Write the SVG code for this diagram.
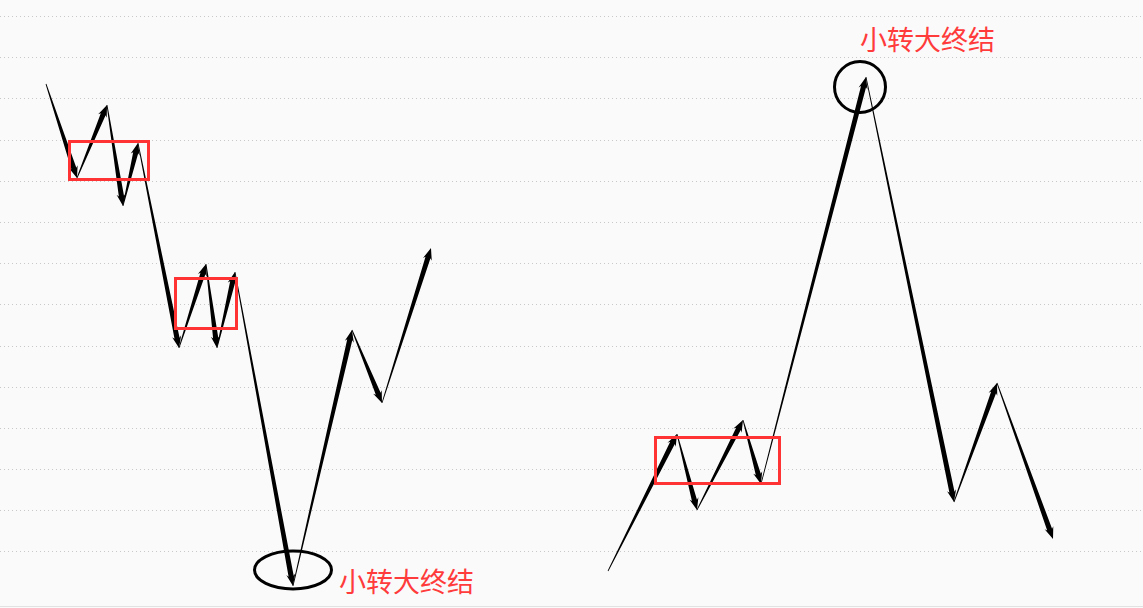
<svg xmlns="http://www.w3.org/2000/svg" width="1143" height="608" viewBox="0 0 1143 608">
<style>
.grid{stroke:#c8c8c8;stroke-width:1;stroke-dasharray:1 3}
.arr{fill:#000}
.box{fill:none;stroke:#ff3333;stroke-width:3}
.ring{fill:none;stroke:#000;stroke-width:3}
.lbl{font-family:"Noto Sans CJK SC","Noto Sans CJK JP",sans-serif;font-size:27px;fill:#ff3b3b}
</style>
<rect x="0" y="0" width="1143" height="608" fill="#fafafa"/>
<g id="grid">
<line class="grid" x1="0" y1="16.5" x2="1143" y2="16.5"/>
<line class="grid" x1="0" y1="57.5" x2="1143" y2="57.5"/>
<line class="grid" x1="0" y1="98.5" x2="1143" y2="98.5"/>
<line class="grid" x1="0" y1="140.5" x2="1143" y2="140.5"/>
<line class="grid" x1="0" y1="181.5" x2="1143" y2="181.5"/>
<line class="grid" x1="0" y1="222.5" x2="1143" y2="222.5"/>
<line class="grid" x1="0" y1="263.5" x2="1143" y2="263.5"/>
<line class="grid" x1="0" y1="304.5" x2="1143" y2="304.5"/>
<line class="grid" x1="0" y1="346.5" x2="1143" y2="346.5"/>
<line class="grid" x1="0" y1="387.5" x2="1143" y2="387.5"/>
<line class="grid" x1="0" y1="428.5" x2="1143" y2="428.5"/>
<line class="grid" x1="0" y1="469.5" x2="1143" y2="469.5"/>
<line class="grid" x1="0" y1="510.5" x2="1143" y2="510.5"/>
<line class="grid" x1="0" y1="551.5" x2="1143" y2="551.5"/>
<line x1="0" y1="606.5" x2="1143" y2="606.5" stroke="#e2e2e2" stroke-width="1"/>
</g>
<g id="connectors">
<path class="arr" transform="translate(46,84) rotate(71.75)" d="M0,-0.4 L88.98,-2.6 L86.98,-4.6 L98.98,0 L86.98,4.6 L88.98,2.6 L0,0.4Z"/>
<path class="arr" transform="translate(77,178) rotate(-67.65)" d="M0,-0.4 L68.92,-2.6 L66.92,-4.6 L78.92,0 L66.92,4.6 L68.92,2.6 L0,0.4Z"/>
<path class="arr" transform="translate(107,105) rotate(81)" d="M0,-0.4 L92.26,-2.6 L90.26,-4.6 L102.26,0 L90.26,4.6 L92.26,2.6 L0,0.4Z"/>
<path class="arr" transform="translate(123,206) rotate(-76.6)" d="M0,-0.4 L54.76,-2.6 L52.76,-4.6 L64.76,0 L52.76,4.6 L54.76,2.6 L0,0.4Z"/>
<path class="arr" transform="translate(138,143) rotate(78.69)" d="M0,-0.4 L199.06,-2.6 L197.06,-4.6 L209.06,0 L197.06,4.6 L199.06,2.6 L0,0.4Z"/>
<path class="arr" transform="translate(179,348) rotate(-72.18)" d="M0,-0.4 L78.23,-2.6 L76.23,-4.6 L88.23,0 L76.23,4.6 L78.23,2.6 L0,0.4Z"/>
<path class="arr" transform="translate(206,264) rotate(82.54)" d="M0,-0.4 L74.72,-2.6 L72.72,-4.6 L84.72,0 L72.72,4.6 L74.72,2.6 L0,0.4Z"/>
<path class="arr" transform="translate(217,348) rotate(-76.68)" d="M0,-0.4 L68.1,-2.6 L66.1,-4.6 L78.1,0 L66.1,4.6 L68.1,2.6 L0,0.4Z"/>
<path class="arr" transform="translate(235,272) rotate(79.54)" d="M0,-0.4 L309.31,-2.6 L307.31,-4.6 L319.31,0 L307.31,4.6 L309.31,2.6 L0,0.4Z"/>
<path class="arr" transform="translate(293,586) rotate(-77.02)" d="M0,-0.4 L252.71,-2.6 L250.71,-4.6 L262.71,0 L250.71,4.6 L252.71,2.6 L0,0.4Z"/>
<path class="arr" transform="translate(352,330) rotate(67.65)" d="M0,-0.4 L68.92,-2.6 L66.92,-4.6 L78.92,0 L66.92,4.6 L68.92,2.6 L0,0.4Z"/>
<path class="arr" transform="translate(382,403) rotate(-72.46)" d="M0,-0.4 L152.56,-2.6 L150.56,-4.6 L162.56,0 L150.56,4.6 L152.56,2.6 L0,0.4Z"/>
<path class="arr" transform="translate(608,571) rotate(-63.27)" d="M0,-0.4 L143.4,-2.6 L141.4,-4.6 L153.4,0 L141.4,4.6 L143.4,2.6 L0,0.4Z"/>
<path class="arr" transform="translate(677,434) rotate(75.26)" d="M0,-0.4 L68.59,-2.6 L66.59,-4.6 L78.59,0 L66.59,4.6 L68.59,2.6 L0,0.4Z"/>
<path class="arr" transform="translate(697,510) rotate(-62.93)" d="M0,-0.4 L91.07,-2.6 L89.07,-4.6 L101.07,0 L89.07,4.6 L91.07,2.6 L0,0.4Z"/>
<path class="arr" transform="translate(743,420) rotate(74.29)" d="M0,-0.4 L56.48,-2.6 L54.48,-4.6 L66.48,0 L54.48,4.6 L56.48,2.6 L0,0.4Z"/>
<path class="arr" transform="translate(761,484) rotate(-75.53)" d="M0,-0.4 L410.33,-2.6 L408.33,-4.6 L420.33,0 L408.33,4.6 L410.33,2.6 L0,0.4Z"/>
<path class="arr" transform="translate(866,77) rotate(78.3)" d="M0,-0.4 L424.02,-2.6 L422.02,-4.6 L434.02,0 L422.02,4.6 L424.02,2.6 L0,0.4Z"/>
<path class="arr" transform="translate(954,502) rotate(-70.13)" d="M0,-0.4 L116.53,-2.6 L114.53,-4.6 L126.53,0 L114.53,4.6 L116.53,2.6 L0,0.4Z"/>
<path class="arr" transform="translate(997,383) rotate(70.25)" d="M0,-0.4 L155.75,-2.6 L153.75,-4.6 L165.75,0 L153.75,4.6 L155.75,2.6 L0,0.4Z"/>
</g>
<g id="box1"><rect class="box" x="69.5" y="141.5" width="79" height="38"/></g>
<g id="box2"><rect class="box" x="175.5" y="278.5" width="61" height="50"/></g>
<g id="box3"><rect class="box" x="655.5" y="437.5" width="124" height="46"/></g>
<g id="end1">
<ellipse class="ring" cx="293" cy="570" rx="38.5" ry="19"/>
<text class="lbl" x="339" y="592">小转大终结</text>
</g>
<g id="end2">
<circle class="ring" cx="860" cy="87" r="25.5"/>
<text class="lbl" x="860" y="50">小转大终结</text>
</g>
</svg>
